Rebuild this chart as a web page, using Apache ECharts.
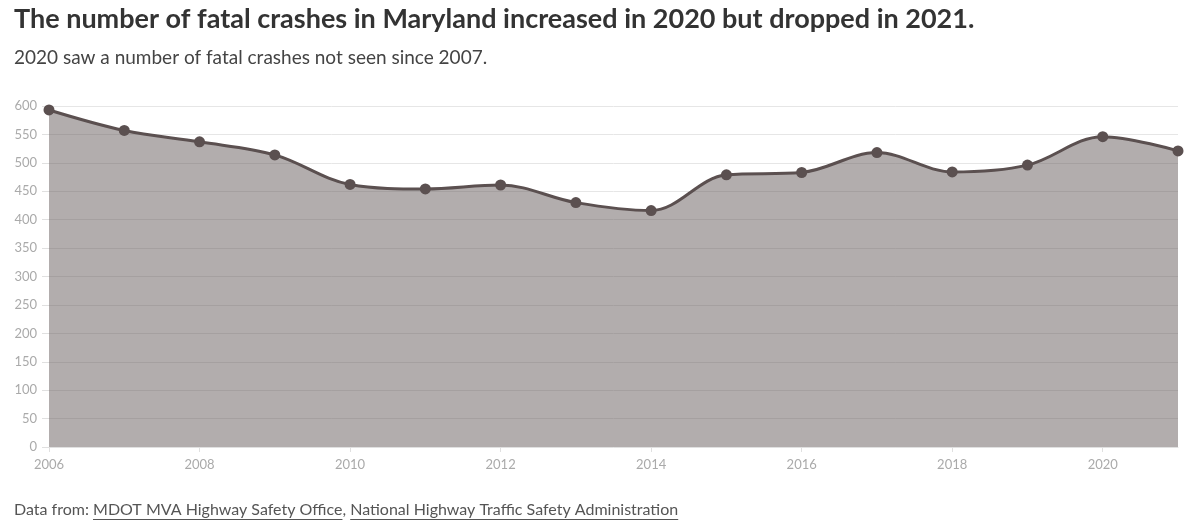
<!DOCTYPE html>
<html><head><meta charset="utf-8">
<script src="https://cdn.jsdelivr.net/npm/echarts@6/dist/echarts.min.js"></script>
<style>html,body{margin:0;padding:0;background:#fff}#c{width:1200px;height:531px}</style>
</head><body><div id="c"></div>
<script>
const years = ['2006','2007','2008','2009','2010','2011','2012','2013','2014','2015','2016','2017','2018','2019','2020','2021'];
const fatalCrashes = [593,557,537,514,462,454,461,430,416,479,483,518,484,496,546,521];
const yTicks = [0,50,100,150,200,250,300,350,400,450,500,550,600];
const titleText = 'The number of fatal crashes in Maryland increased in 2020 but dropped in 2021.';
const subtitleText = '2020 saw a number of fatal crashes not seen since 2007.';
const footerPrefix = 'Data from: ';
const sources = ['MDOT MVA Highway Safety Office', 'National Highway Traffic Safety Administration'];

const FONT = 'Lato, "Noto Sans", sans-serif';
const footSize = 16;
const ctx = document.createElement('canvas').getContext('2d');
ctx.font = footSize + 'px Lato';
const wPre = ctx.measureText(footerPrefix).width;
const w1 = ctx.measureText(sources[0]).width;
const wComma = ctx.measureText(', ').width;
const w2 = ctx.measureText(sources[1]).width;
const fx = 14, fy = 511;

const chart = echarts.init(document.getElementById('c'));
chart.setOption({
  animation: false,
  title: [
    {text: titleText, left: 9, top: 1, textStyle: {fontFamily: FONT, fontWeight: 'bold', fontSize: 27, color: '#333'}},
    {text: subtitleText, left: 9, top: 43, textStyle: {fontFamily: FONT, fontWeight: 'normal', fontSize: 19, color: '#444'}}
  ],
  grid: {left: 49, right: 22, top: 106, bottom: 84, containLabel: false},
  xAxis: {
    type: 'category', data: years, boundaryGap: false,
    axisLine: {show: true, lineStyle: {color: '#e0e0e0'}},
    axisTick: {show: true, interval: 1, length: 5, lineStyle: {color: '#e0e0e0'}},
    axisLabel: {interval: 1, color: '#aaa', fontFamily: FONT, fontSize: 13, margin: 11},
    splitLine: {show: false}
  },
  yAxis: {
    type: 'value', min: 0, max: 600, interval: 50,
    axisLine: {show: false},
    axisTick: {show: true, length: 7, lineStyle: {color: '#e0e0e0'}},
    axisLabel: {color: '#aaa', fontFamily: FONT, fontSize: 13, margin: 12,
      formatter: v => yTicks.indexOf(v) >= 0 ? String(v) : ''},
    splitLine: {show: true, lineStyle: {color: '#e6e6e6', width: 1}}
  },
  series: [{
    type: 'line', data: fatalCrashes, smooth: 0.35,
    symbol: 'circle', symbolSize: 11,
    itemStyle: {color: '#5b5050'},
    lineStyle: {color: '#5b5050', width: 3},
    areaStyle: {color: '#5b5050', opacity: 0.47, origin: 'start'}
  }],
  graphic: [
    {type: 'text', left: fx, top: fy - 9, style: {text: footerPrefix, font: footSize + 'px ' + FONT, fill: '#555'}},
    {type: 'text', left: fx + wPre, top: fy - 9, style: {text: sources[0], font: footSize + 'px ' + FONT, fill: '#555'}},
    {type: 'text', left: fx + wPre + w1, top: fy - 9, style: {text: ', ', font: footSize + 'px ' + FONT, fill: '#555'}},
    {type: 'text', left: fx + wPre + w1 + wComma, top: fy - 9, style: {text: sources[1], font: footSize + 'px ' + FONT, fill: '#555'}},
    {type: 'line', shape: {x1: fx + wPre, y1: fy + 8.5, x2: fx + wPre + w1, y2: fy + 8.5}, style: {stroke: '#555', lineWidth: 1}},
    {type: 'line', shape: {x1: fx + wPre + w1 + wComma, y1: fy + 8.5, x2: fx + wPre + w1 + wComma + w2, y2: fy + 8.5}, style: {stroke: '#555', lineWidth: 1}}
  ]
});
</script></body></html>
